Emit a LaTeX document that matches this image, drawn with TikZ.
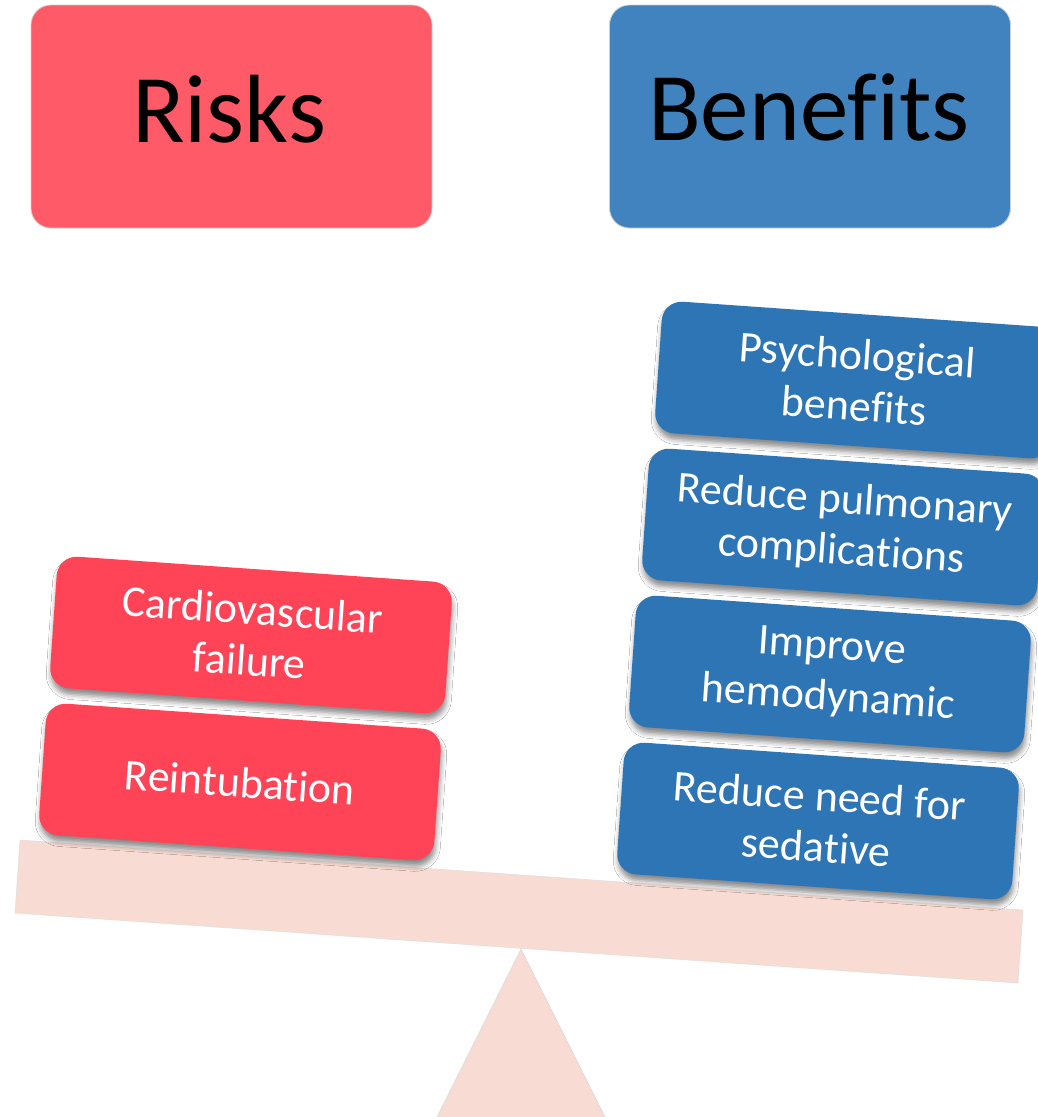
\documentclass[tikz,border=0pt]{standalone}
\usepackage{fontspec}
\setmainfont{Carlito}[Ligatures=NoCommon]
\usetikzlibrary{shadows.blur}
\definecolor{riskTop}{HTML}{FF5A67}
\definecolor{benTop}{HTML}{4183BF}
\definecolor{riskItem}{HTML}{FF4458}
\definecolor{benItem}{HTML}{2E75B6}
\definecolor{beamcol}{HTML}{F8DBD2}
\tikzset{
  header/.style={rounded corners=20pt, draw=gray!40, line width=0.8pt,
    minimum width=401pt, minimum height=223pt, inner sep=0pt},
  headtext/.style={font=\fontsize{97}{110}\selectfont, text=black, anchor=base, inner sep=0pt},
  item/.style={rounded corners=20pt, minimum width=396pt, minimum height=132pt,
    rotate=-4, text=white, align=center, font=\fontsize{44}{51}\selectfont,
    inner sep=0pt,
    blur shadow={shadow xshift=1pt, shadow yshift=-6pt, shadow blur radius=5pt, shadow opacity=45}},
  riskitem/.style={item, fill=riskItem},
  benitem/.style={item, fill=benItem},
  beamstyle/.style={fill=beamcol, draw=gray!25, line width=0.5pt},
}
\begin{document}
\begin{tikzpicture}[x=1pt,y=-1pt]
\useasboundingbox (0,0) rectangle (1038,1117);
\clip (0,0) rectangle (1038,1117);
\fill[white] (0,0) rectangle (1038,1117);

% headers
\node[header, fill=riskTop] (risks) at (231.5,116.5) {};
\node[headtext] (riskslabel) at (229,142) {Risks};
\node[header, fill=benTop] (benefits) at (810,116.5) {};
\node[headtext] (benefitslabel) at (809,140) {Benefits};

% fulcrum and beam
\coordinate (apex) at (521,949);
\fill[beamcol] (437,1117) -- (apex) -- (605,1117) -- cycle;
\draw[gray!30, line width=0.5pt] (437,1117) -- (apex) -- (605,1117);
\path[beamstyle] (20,840) -- (1023,910) -- (1018,983) -- (15,913) -- cycle;

% risk items
\node[riskitem] (cardio) at (251,635) {Cardiovascular\\failure};
\node[riskitem] (reintub) at (240,782) {Reintubation};

% benefit items
\node[benitem] (psych) at (856,380) {Psychological\\benefits};
\node[benitem] (pulm) at (843,527) {Reduce pulmonary\\complications};
\node[benitem] (hemo) at (830,674) {Improve\\hemodynamic};
\node[benitem] (sed) at (818,821) {Reduce need for\\sedative};
\end{tikzpicture}
\end{document}
